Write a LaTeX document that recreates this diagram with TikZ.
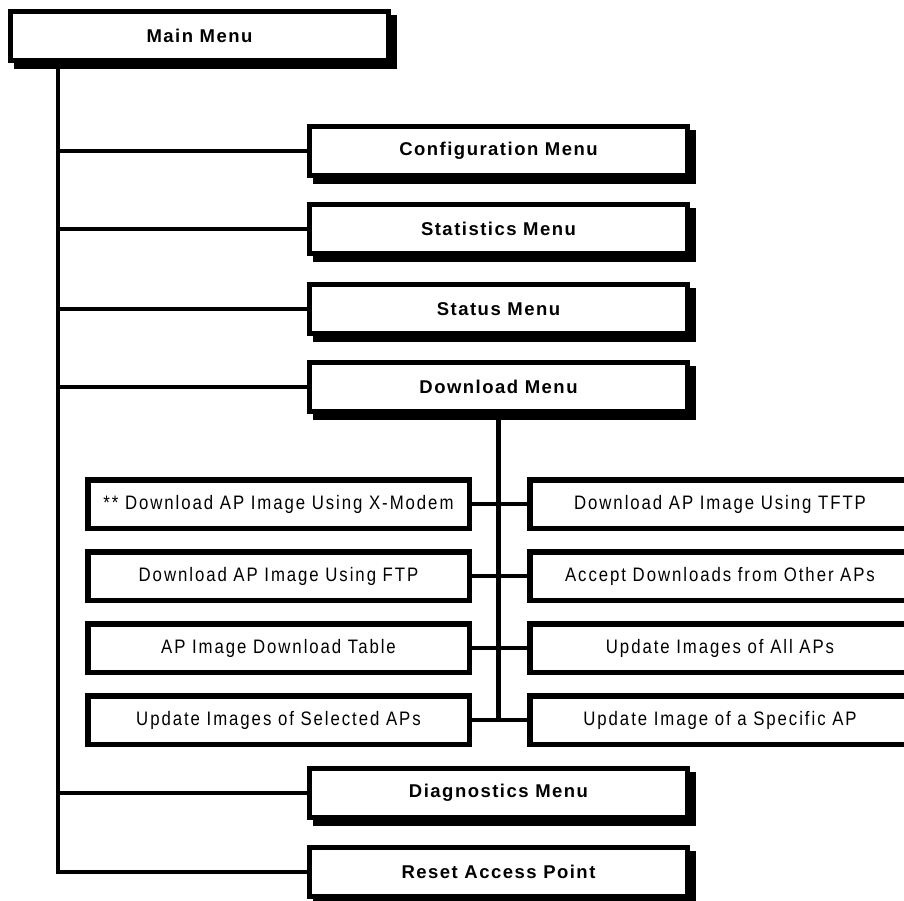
\documentclass[tikz,border=0pt]{standalone}
\usepackage{fontspec}
\setmainfont{Liberation Sans}
\newfontfamily\menufont{Liberation Sans}[LetterSpace=8]
\newfontfamily\itemfont{Liberation Sans}[LetterSpace=10, FakeStretch=0.86]
\usetikzlibrary{backgrounds}

\tikzset{
  menubox/.style={draw, fill=white, line width=5pt, minimum width=378pt,
    minimum height=49pt, inner sep=0pt,
    font=\menufont\bfseries\fontsize{18.5}{20}\selectfont},
  itembox/.style={draw, fill=white, line width=5.5pt, minimum height=48.5pt,
    inner sep=0pt, font=\itemfont\fontsize{19.5}{22}\selectfont},
  leftitem/.style={itembox, minimum width=381.5pt},
  rightitem/.style={itembox, minimum width=380.5pt},
  wire/.style={line width=4.5pt},
  shade/.style={fill=black}
}

\begin{document}
\begin{tikzpicture}[x=1pt, y=-1pt]
  \useasboundingbox (0,0) rectangle (904,901);
  \clip (0,0) rectangle (904,901);

  % top level menu and its entries
  \node[menubox] (main)     at (199.5, 36)  {Main Menu};
  \node[menubox] (config)   at (498.5, 151) {Configuration Menu};
  \node[menubox] (stats)    at (498.5, 229) {Statistics Menu};
  \node[menubox] (status)   at (498.5, 309) {Status Menu};
  \node[menubox] (download) at (498.5, 387) {Download Menu};
  \node[menubox] (diag)     at (498.5, 793) {Diagnostics Menu};
  \node[menubox] (reset)    at (498.5, 872) {Reset Access Point};

  % download sub-menu, two columns
  \node[leftitem]  (d1l) at (278.5, 504) {** Download AP Image Using X-Modem};
  \node[rightitem] (d1r) at (720, 504)   {Download AP Image Using TFTP};
  \node[leftitem]  (d2l) at (278.5, 576) {Download AP Image Using FTP};
  \node[rightitem] (d2r) at (720, 576)   {Accept Downloads from Other APs};
  \node[leftitem]  (d3l) at (278.5, 648) {AP Image Download Table};
  \node[rightitem] (d3r) at (720, 648)   {Update Images of All APs};
  \node[leftitem]  (d4l) at (278.5, 720) {Update Images of Selected APs};
  \node[rightitem] (d4r) at (720, 720)   {Update Image of a Specific AP};

  % drop shadows behind the menu boxes
  \begin{scope}[on background layer]
    \fill[white] (0,0) rectangle (904,901);
    \foreach \n in {main,config,stats,status,download,diag,reset}
      \fill[shade] ([shift={(6,6)}]\n.north west) rectangle ([shift={(6,6)}]\n.south east);
  \end{scope}

  % main trunk and branches
  \coordinate (trunk) at (58,0);
  \draw[wire] (main.south -| trunk) |- (reset.west);
  \foreach \n in {config,stats,status,download,diag}
    \draw[wire] (\n.west -| trunk) -- (\n.west);

  % download trunk and rows
  \draw[wire] (download.south) -- (download.south |- d4l.east);
  \foreach \r in {1,2,3,4}
    \draw[wire] (d\r l.east) -- (d\r r.west);
\end{tikzpicture}
\end{document}
